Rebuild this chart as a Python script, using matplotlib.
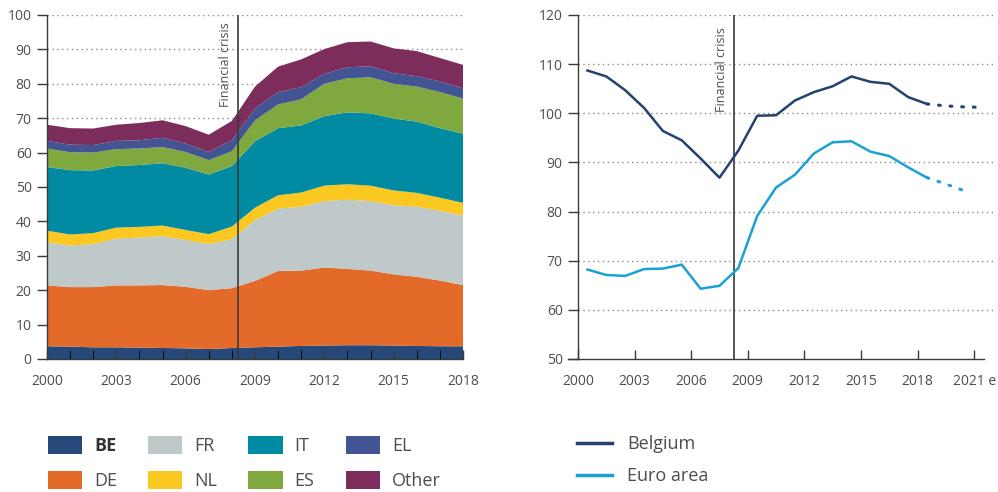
import numpy as np
import matplotlib.pyplot as plt
from matplotlib.patches import Patch
from matplotlib.lines import Line2D
import matplotlib.transforms as mtransforms

plt.rcParams['font.family'] = ['Open Sans', 'DejaVu Sans']

# left panel: holdings by country (stacked)
years = np.arange(2000, 2019)
be = [3.7, 3.6, 3.4, 3.4, 3.3, 3.2, 3.1, 2.9, 3.2, 3.4, 3.6, 3.8, 3.9, 4.0, 4.0, 3.9, 3.8, 3.7, 3.7]
de = [17.7, 17.3, 17.5, 18.0, 18.1, 18.3, 17.9, 17.1, 17.4, 19.3, 22.0, 21.9, 22.7, 22.2, 21.7, 20.7, 20.1, 19.1, 17.8]
fr = [12.5, 12.1, 12.5, 13.6, 13.9, 14.2, 13.6, 13.4, 14.2, 17.7, 18.1, 18.6, 19.3, 20.1, 20.2, 20.1, 20.4, 20.3, 20.2]
nl = [3.4, 3.2, 3.2, 3.2, 3.1, 3.1, 2.9, 2.9, 3.7, 3.6, 3.9, 4.1, 4.5, 4.5, 4.5, 4.3, 4.0, 3.8, 3.7]
it = [18.5, 18.7, 18.2, 17.9, 18.0, 18.1, 18.1, 17.3, 17.6, 19.3, 19.5, 19.5, 20.2, 20.9, 21.0, 20.9, 20.7, 20.2, 20.1]
es = [5.4, 5.2, 5.2, 4.9, 4.8, 4.7, 4.6, 4.2, 4.3, 6.1, 6.9, 7.6, 9.4, 9.9, 10.5, 10.1, 10.2, 10.5, 10.2]
el = [2.2, 2.2, 2.2, 2.4, 2.4, 2.7, 2.4, 2.4, 3.2, 3.4, 3.6, 3.5, 2.9, 3.2, 3.2, 3.1, 3.0, 3.1, 3.0]
other = [4.7, 4.8, 4.8, 4.7, 5.0, 5.1, 5.1, 5.0, 5.6, 6.4, 7.4, 8.1, 7.2, 7.3, 7.2, 7.2, 7.3, 6.8, 6.8]
countries = ['BE', 'DE', 'FR', 'NL', 'IT', 'ES', 'EL', 'Other']
country_colors = ['#26497a', '#e36a28', '#bfc9c9', '#fbc821', '#008ba2', '#7fa83e', '#425494', '#7d2d5b']

# right panel: debt ratio
years_r = np.arange(2000, 2019) + 0.5
belgium = [108.7, 107.5, 104.7, 101.1, 96.4, 94.5, 90.8, 86.9, 92.4, 99.5, 99.6, 102.6,
           104.3, 105.5, 107.5, 106.4, 106.0, 103.3, 101.9]
euro = [68.2, 67.1, 66.9, 68.3, 68.4, 69.2, 64.3, 64.9, 68.5, 79.1, 84.9, 87.5,
        91.8, 94.1, 94.3, 92.2, 91.3, 89.0, 86.9]
years_fc_be = [2018.5, 2019.5, 2020.5, 2021.5]
belgium_fc = [101.9, 101.5, 101.3, 101.2]
years_fc_ea = [2018.5, 2019.5, 2020.5]
euro_fc = [86.9, 85.6, 84.2]

crisis = 2008.25
spine_col = '#3a3a3a'
text_col = '#4d4d4d'
grid_col = '#8a8a8a'

fig = plt.figure(figsize=(9.98, 4.92), dpi=100)
ax1 = fig.add_axes([47 / 998, 1 - 359 / 492, 416 / 998, 344 / 492])
ax2 = fig.add_axes([578 / 998, 1 - 359 / 492, 415 / 998, 344 / 492])

for ax in (ax1, ax2):
    for s in ('top', 'right'):
        ax.spines[s].set_visible(False)
    for s in ('left', 'bottom'):
        ax.spines[s].set_color(spine_col)
        ax.spines[s].set_linewidth(1.0)
    ax.tick_params(colors=spine_col, labelcolor=text_col, labelsize=10, width=1.0)
    ax.tick_params(axis='y', direction='out', length=7, pad=4)
    ax.tick_params(axis='x', which='both', direction='in', length=6.5, pad=11)

# ---- left chart
ax1.stackplot(years, be, de, fr, nl, it, es, el, other, colors=country_colors,
              linewidth=0, zorder=1)
ax1.set_xlim(2000, 2018)
ax1.set_ylim(0, 100)
ax1.set_yticks(np.arange(0, 101, 10))
ax1.set_xticks(np.arange(2000, 2019, 3))
ax1.set_xticks(np.arange(2000, 2019), minor=True)
for v in np.arange(10, 101, 10):
    ax1.axhline(v, color=grid_col, lw=1, ls=(0, (1, 2.5)), zorder=0)
ax1.axvline(crisis, color=spine_col, lw=1.2, zorder=3)
off = mtransforms.offset_copy(ax1.get_xaxis_transform(), fig=fig, x=-6, y=0, units='dots')
ax1.text(crisis, 0.98, 'Financial crisis', rotation=90, ha='right', va='top',
         fontsize=9, color=text_col, transform=off)

# ---- right chart
ax2.plot(years_r, belgium, color='#24416f', lw=1.8, zorder=3)
ax2.plot(years_r, euro, color='#1ba1d6', lw=1.8, zorder=3)
ax2.plot(years_fc_be, belgium_fc, color='#24416f', lw=2.2, ls=(0, (0.6, 3.2)),
         dash_capstyle='round', zorder=3)
ax2.plot(years_fc_ea, euro_fc, color='#1ba1d6', lw=2.2, ls=(0, (0.6, 3.2)),
         dash_capstyle='round', zorder=3)
ax2.set_xlim(2000, 2022)
ax2.set_ylim(50, 120)
ax2.set_yticks(np.arange(50, 121, 10))
ax2.set_xticks(np.arange(2000, 2022, 3))
ax2.set_xticklabels([str(y) for y in range(2000, 2019, 3)] + ['2021 e'])
ax2.spines['bottom'].set_bounds(1999.47, 2021.5)
for v in np.arange(60, 121, 10):
    ax2.axhline(v, color=grid_col, lw=1, ls=(0, (1, 2.5)), zorder=0)
ax2.axvline(crisis, color=spine_col, lw=1.2, zorder=2)
off2 = mtransforms.offset_copy(ax2.get_xaxis_transform(), fig=fig, x=-6, y=0, units='dots')
ax2.text(crisis, 0.965, 'Financial crisis', rotation=90, ha='right', va='top',
         fontsize=9, color=text_col, transform=off2)

# ---- legends
handles = [Patch(facecolor=c, edgecolor='none') for c in country_colors]
leg1 = fig.legend(handles, countries, loc='upper left', ncol=4,
                  bbox_to_anchor=(48 / 998, 1 - 436 / 492), frameon=False,
                  fontsize=13, handlelength=1.89, handleheight=1.17,
                  handletextpad=0.67, columnspacing=1.72, labelspacing=0.86,
                  borderpad=0, borderaxespad=0)
for t in leg1.get_texts():
    t.set_color(text_col)
leg1.get_texts()[0].set_fontweight('bold')
leg1.get_texts()[0].set_color('#333333')

lines = [Line2D([0], [0], color='#24416f', lw=2.5), Line2D([0], [0], color='#1ba1d6', lw=2.5)]
leg2 = fig.legend(lines, ['Belgium', 'Euro area'], loc='upper left',
                  bbox_to_anchor=(577 / 998, 1 - 435 / 492), frameon=False,
                  fontsize=13, handlelength=1.94, handletextpad=0.83,
                  labelspacing=0.78, borderpad=0, borderaxespad=0)
for t in leg2.get_texts():
    t.set_color(text_col)

fig.savefig('out.png', dpi=100)
